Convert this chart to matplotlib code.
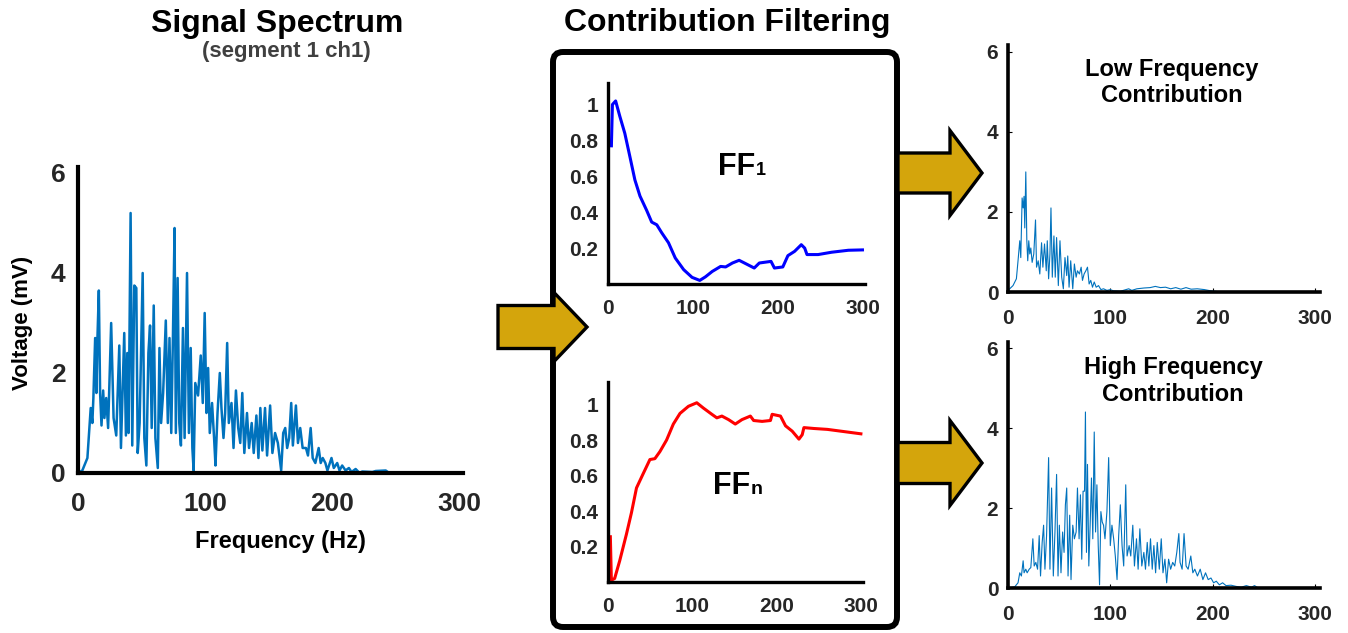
import matplotlib
matplotlib.use("Agg")
import matplotlib.pyplot as plt
from matplotlib.patches import FancyBboxPatch, Polygon

plt.rcParams["font.family"] = ["Liberation Sans", "DejaVu Sans"]
plt.rcParams["font.weight"] = "bold"

# ---- data ----
spec_freq = [0, 3.4, 7.4, 10.0, 11.3, 12.1, 13.5, 14.5, 15.3, 16.4, 17.4, 18.5, 19.8, 20.8, 22.2,
             23.7, 26.1, 28.0, 30.1, 32.5, 33.8, 36.4, 37.7, 38.8, 39.8, 41.4, 42.7, 44.3, 45.9,
             47.0, 48.5, 50.9, 52.2, 53.8, 55.4, 56.7, 58.0, 59.6, 60.9, 62.8, 64.1, 65.4, 67.0,
             69.1, 70.7, 72.0, 73.4, 74.7, 76.0, 77.0, 78.4, 79.7, 81.0, 82.6, 83.9, 85.8, 87.3,
             88.7, 90.0, 91.0, 92.3, 94.5, 96.6, 98.2, 99.7, 101.1, 102.4, 103.7, 105.5, 107.1,
             108.2, 109.8, 111.6, 112.9, 114.5, 115.8, 117.4, 118.7, 120.8, 122.4, 124.3, 126.1,
             127.7, 129.3, 130.9, 133.0, 134.6, 136.7, 138.3, 140.4, 142.0, 143.5, 145.1, 147.2,
             148.8, 151.2, 153.0, 155.1, 157.3, 159.9, 161.5, 163.1, 164.6, 166.2, 167.8, 169.1,
             171.5, 173.1, 174.9, 176.8, 179.4, 181.0, 183.1, 184.7, 186.8, 189.4, 191.0, 192.6,
             194.7, 196.3, 199.5, 201.3, 204.0, 205.8, 207.9, 210.6, 213.2, 215.3, 218.5, 221.6,
             223.7, 231.7, 234.3, 242.2, 244.9]
spec_volt = [0.0, 0.05, 0.3, 1.3, 1.0, 1.5, 2.7, 1.6, 2.7, 3.65, 1.6, 0.95, 1.65, 1.1, 1.5,
             0.9, 3.0, 1.1, 0.75, 2.55, 0.5, 2.8, 0.75, 2.4, 0.8, 5.2, 0.55, 3.75, 3.7,
             0.4, 1.0, 4.0, 0.7, 0.15, 2.4, 2.95, 0.9, 3.35, 0.7, 0.1, 2.5, 1.0, 1.6,
             3.05, 1.0, 2.7, 0.8, 2.7, 4.9, 0.8, 3.9, 1.0, 0.55, 2.9, 0.7, 4.0, 0.8,
             2.5, 0.5, 0.05, 1.8, 1.55, 2.35, 1.4, 3.2, 1.2, 2.1, 0.8, 1.4, 0.7,
             0.15, 1.2, 2.0, 1.3, 0.7, 1.2, 2.6, 1.0, 1.4, 0.5, 1.65, 0.9,
             0.6, 1.6, 0.4, 1.2, 0.5, 1.0, 0.4, 1.15, 0.3, 1.3, 0.45, 1.3,
             0.35, 1.35, 0.4, 0.8, 0.6, 0.05, 0.8, 0.9, 0.5, 0.7, 1.4, 0.55,
             1.35, 0.6, 0.9, 0.5, 0.5, 0.35, 0.9, 0.3, 0.2, 0.5, 0.2, 0.3,
             0.2, 0.05, 0.3, 0.1, 0.2, 0.05, 0.15, 0.05, 0.1, 0.02, 0.08, 0.0,
             0.03, 0.02, 0.04, 0.05, 0.0]

ff1_freq = [4, 5.2, 9, 13.9, 19.8, 25.8, 31.7, 37.7, 45.6, 51.5, 57.5, 63.4, 71.3, 79.3, 89.2,
            99.1, 108.2, 114.9, 122.9, 132.8, 138.7, 146.7, 154.6, 162.5, 172.4, 178.4, 192.2,
            196.2, 206.1, 212.1, 220, 227.9, 231.9, 234.6, 247.7, 263.6, 283.4, 300]
ff1_val = [0.77, 1.0, 1.02, 0.935, 0.84, 0.71, 0.58, 0.49, 0.41, 0.345, 0.33, 0.285, 0.23, 0.145,
           0.08, 0.037, 0.02, 0.04, 0.07, 0.098, 0.095, 0.117, 0.132, 0.113, 0.089, 0.117, 0.126,
           0.089, 0.095, 0.158, 0.182, 0.219, 0.2, 0.164, 0.164, 0.177, 0.188, 0.19]

ffn_freq = [2.8, 4, 7.9, 13.9, 21.9, 27.8, 33.8, 41.7, 49.7, 55.6, 61.6, 69.5, 77.5, 85.4, 95.4,
            105.3, 113.2, 123.2, 129.1, 135.1, 143, 151, 158.9, 168.9, 172.8, 182.8, 192.7,
            194.7, 204.6, 210.6, 218.5, 226.5, 230.4, 232.4, 244.3, 260.2, 276.1, 300]
ffn_val = [0.255, 0.01, 0.02, 0.12, 0.27, 0.39, 0.53, 0.61, 0.69, 0.695, 0.735, 0.8, 0.89, 0.95,
           0.99, 1.01, 0.98, 0.945, 0.925, 0.935, 0.915, 0.89, 0.915, 0.935, 0.91, 0.905, 0.91,
           0.945, 0.935, 0.88, 0.85, 0.805, 0.83, 0.87, 0.865, 0.86, 0.85, 0.835]

low_freq = [0, 4.9, 8.2, 9.8, 11.5, 12.5, 13.8, 14.8, 15.7, 16.4, 17.4, 18.4, 19.3, 20.3, 21.3,
            22.3, 23.6, 25.2, 26.9, 27.9, 29.5, 31.1, 32.8, 34.1, 35.7, 37.4, 38.4, 39.7, 41,
            42, 43.3, 44.9, 46.2, 47.5, 49.2, 50.8, 52.5, 54.1, 55.7, 57.4, 58.4, 59.7, 61.3,
            63.3, 64.9, 66.6, 67.9, 69.8, 71.5, 72.8, 74.4, 76.1, 77.7, 79.3, 80.9, 82.6, 84.3,
            86.2, 88.5, 90.8, 93.4, 96.7, 100, 103, 110, 118, 121, 126, 133, 139, 144, 149, 154,
            159, 164, 169, 174, 179, 185, 192, 198, 205, 300]
low_volt = [0.04, 0.16, 0.33, 0.78, 1.28, 0.86, 2.35, 2.1, 2.39, 1.6, 3.0, 1.28, 0.78, 1.28, 0.95,
            1.1, 0.74, 0.95, 1.8, 0.62, 0.78, 0.45, 1.23, 0.62, 1.2, 0.53, 1.28, 0.33, 0.95,
            2.1, 0.37, 1.4, 0.37, 1.36, 0.16, 1.28, 0.37, 0.08, 0.86, 0.41, 0.9, 0.12, 0.78,
            0.08, 0.7, 0.37, 0.53, 0.45, 0.62, 0.29, 0.45, 0.53, 0.62, 0.2, 0.29, 0.12, 0.25,
            0.12, 0.16, 0.06, 0.08, 0.04, 0.06, 0.03, 0.02, 0.08, 0.04, 0.08, 0.1, 0.11, 0.14,
            0.11, 0.12, 0.08, 0.11, 0.07, 0.11, 0.07, 0.08, 0.06, 0.03, 0.01, 0.0]

high_freq = [0, 6.6, 9.8, 11.5, 13.1, 14.8, 15.7, 17.4, 18.7, 20.7, 22.3, 24.3, 25.6, 27.2, 28.9,
             30.5, 31.8, 33.4, 34.8, 36.1, 37.7, 39.7, 41, 42.6, 44.3, 45.9, 47.5, 48.9, 50.2,
             51.8, 53.4, 54.8, 56.1, 57.4, 58.7, 60.3, 61.6, 63.3, 64.9, 66.6, 67.9, 69.5, 70.8,
             72.1, 73.4, 74.8, 75.7, 76.7, 77.7, 79, 80.3, 81.6, 82.9, 84.3, 85.6, 86.9, 88.2,
             89.5, 90.8, 92.1, 93.4, 94.8, 96.7, 98.4, 100, 101.6, 103.3, 104.9, 106.6, 108.2,
             109.8, 111.5, 113.1, 115.1, 116.4, 118.4, 120, 122, 123.6, 125.6, 127.2, 128.9,
             130.8, 132.8, 134.4, 136.1, 137.7, 139.3, 141, 142.6, 144.3, 145.9, 147.9, 149.8,
             151.5, 153.4, 155.1, 157, 159, 161, 163, 165, 167, 168.2, 170.2, 172.1, 174.1, 176.1,
             178.7, 180.7, 182.6, 185.2, 187.9, 190.5, 193.1, 195.7, 198.4, 201, 203.6, 206.6,
             209.8, 213.1, 218, 223, 228, 233, 238, 241, 244, 300]
high_volt = [0.0, 0.03, 0.13, 0.38, 0.3, 0.68, 0.38, 0.47, 0.38, 0.47, 0.51, 1.23, 0.55, 0.64, 0.47,
             1.31, 0.3, 1.14, 1.57, 0.47, 1.31, 3.26, 0.47, 2.5, 0.3, 1.4, 2.84, 0.3, 1.57,
             0.38, 1.4, 0.89, 2.08, 2.5, 0.3, 1.82, 0.21, 1.57, 1.23, 1.4, 2.5, 1.23, 2.33,
             0.72, 2.42, 2.42, 4.4, 0.89, 3.09, 0.55, 1.57, 2.75, 1.23, 3.9, 1.4, 2.58, 1.06,
             0.08, 1.91, 1.65, 1.57, 1.23, 1.91, 3.26, 1.06, 1.57, 1.23, 0.8, 0.21, 1.31,
             2.08, 1.06, 0.55, 2.58, 0.8, 1.06, 0.8, 1.57, 0.55, 1.23, 0.47, 1.48,
             0.55, 0.89, 0.47, 1.14, 0.55, 1.23, 0.47, 1.06, 0.38, 1.14, 0.47, 1.23,
             0.38, 0.72, 0.13, 0.72, 0.47, 0.64, 0.55, 0.89, 1.36, 0.64, 0.47, 1.36, 0.55, 0.47,
             0.8, 0.38, 0.47, 0.3, 0.47, 0.21, 0.38, 0.21, 0.25, 0.13, 0.17, 0.08,
             0.13, 0.06, 0.07, 0.04, 0.02, 0.06, 0.02, 0.06, 0.01, 0.0]

W, H = 1348, 633
spec_blue = "#0072BD"
tick_col = "#262626"
gold = "#D4A50C"

fig = plt.figure(figsize=(W / 100, H / 100), dpi=100)

# overlay in pixel coordinates for box, arrows and titles
ov = fig.add_axes([0, 0, 1, 1], zorder=0)
ov.set_xlim(0, W)
ov.set_ylim(H, 0)
ov.axis("off")


def frac(x0, y_top, x1, y_bot):
    return [x0 / W, 1 - y_bot / H, (x1 - x0) / W, (y_bot - y_top) / H]


def style_axes(ax, spine_w, fs, pad_x, pad_y, tick_len=0):
    for s in ("top", "right"):
        ax.spines[s].set_visible(False)
    for s in ("left", "bottom"):
        ax.spines[s].set_linewidth(spine_w)
        ax.spines[s].set_color("black")
    ax.set_facecolor("none")
    ax.tick_params(axis="x", length=tick_len, direction="in", pad=pad_x,
                   labelsize=fs, labelcolor=tick_col)
    ax.tick_params(axis="y", length=tick_len, direction="in", pad=pad_y,
                   labelsize=fs, labelcolor=tick_col)
    for lab in ax.get_xticklabels() + ax.get_yticklabels():
        lab.set_fontweight("bold")


# ---- left: signal spectrum ----
ax1 = fig.add_axes(frac(78, 167, 463, 473), zorder=1)
ax1.plot(spec_freq, spec_volt, color=spec_blue, lw=1.8)
ax1.set_xlim(0, 303)
ax1.set_ylim(0, 6.12)
ax1.set_xticks([0, 100, 200, 300])
ax1.set_yticks([0, 2, 4, 6])
style_axes(ax1, 3.0, 19, 14, 9)
ax1.set_xlabel("Frequency (Hz)", fontsize=17, fontweight="bold")
ax1.set_ylabel("Voltage (mV)", fontsize=16, fontweight="bold")
ax1.xaxis.set_label_coords(0.525, -0.225)
ax1.yaxis.set_label_coords(-0.145, 0.49)
ax1.xaxis.label.set_va("center")
ax1.yaxis.label.set_va("center")

# ---- middle: filter functions ----
ax2 = fig.add_axes(frac(608, 83, 865, 284), zorder=1)
ax2.plot(ff1_freq, ff1_val, color="#0000FF", lw=2.2)
ax2.set_xlim(0, 303)
ax2.set_ylim(0, 1.12)

ax3 = fig.add_axes(frac(608, 382, 863, 582), zorder=1)
ax3.plot(ffn_freq, ffn_val, color="#FF0000", lw=2.2)
ax3.set_xlim(0, 302.5)
ax3.set_ylim(0, 1.127)

for ax in (ax2, ax3):
    ax.set_xticks([0, 100, 200, 300])
    ax.set_yticks([0.2, 0.4, 0.6, 0.8, 1.0])
    ax.set_yticklabels(["0.2", "0.4", "0.6", "0.8", "1"])
    style_axes(ax, 2.4, 15, 11, 7)

# ---- right: contributions ----
ax4 = fig.add_axes(frac(1008, 45, 1320, 292), zorder=1)
ax4.plot(low_freq, low_volt, color=spec_blue, lw=0.8)
ax4.set_ylim(0, 6.17)
ax4.text(0.526, 0.848, "Low Frequency\nContribution", transform=ax4.transAxes,
         ha="center", va="center", fontsize=17, fontweight="bold", linespacing=1.2)

ax5 = fig.add_axes(frac(1008, 342, 1320, 588), zorder=1)
ax5.plot(high_freq, high_volt, color=spec_blue, lw=0.8)
ax5.set_ylim(0, 6.15)
ax5.text(0.529, 0.841, "High Frequency\nContribution", transform=ax5.transAxes,
         ha="center", va="center", fontsize=17, fontweight="bold", linespacing=1.2)

for ax in (ax4, ax5):
    ax.set_xlim(0, 305)
    ax.set_xticks([0, 100, 200, 300])
    ax.set_yticks([0, 2, 4, 6])
    style_axes(ax, 2.6, 15, 12, 7, tick_len=3)

# ---- box, arrows and titles ----
box = FancyBboxPatch((553, 52), 897 - 553, 627 - 52,
                     boxstyle="round,pad=0,rounding_size=10",
                     fc="white", ec="black", lw=4.3)
ov.add_patch(box)


def arrow(tail_x, head_x, tip_x, tip_y, body_half, head_half):
    pts = [(tail_x, tip_y - body_half), (head_x, tip_y - body_half), (head_x, tip_y - head_half),
           (tip_x, tip_y), (head_x, tip_y + head_half), (head_x, tip_y + body_half),
           (tail_x, tip_y + body_half)]
    ov.add_patch(Polygon(pts, closed=True, fc=gold, ec="black", lw=2.4, joinstyle="miter"))


arrow(498, 554, 587, 327, 21.5, 34.5)
arrow(898, 950, 982, 173, 20, 42.5)
arrow(898, 950, 982, 463, 20.5, 42.5)

ov.text(277, 24, "Signal Spectrum", ha="center", va="center", fontsize=23, fontweight="bold")
ov.text(286, 52, "(segment 1 ch1)", ha="center", va="center", fontsize=16,
        fontweight="bold", color="#404040")
ov.text(727, 23, "Contribution Filtering", ha="center", va="center", fontsize=23,
        fontweight="bold")

ov.text(755, 175, "FF", ha="right", va="baseline", fontsize=22, fontweight="bold")
ov.text(756, 175, "1", ha="left", va="baseline", fontsize=13, fontweight="bold")
ov.text(750, 494, "FF", ha="right", va="baseline", fontsize=22, fontweight="bold")
ov.text(751, 494, "n", ha="left", va="baseline", fontsize=14, fontweight="bold")

fig.savefig("out.png", dpi=100, facecolor="white")
